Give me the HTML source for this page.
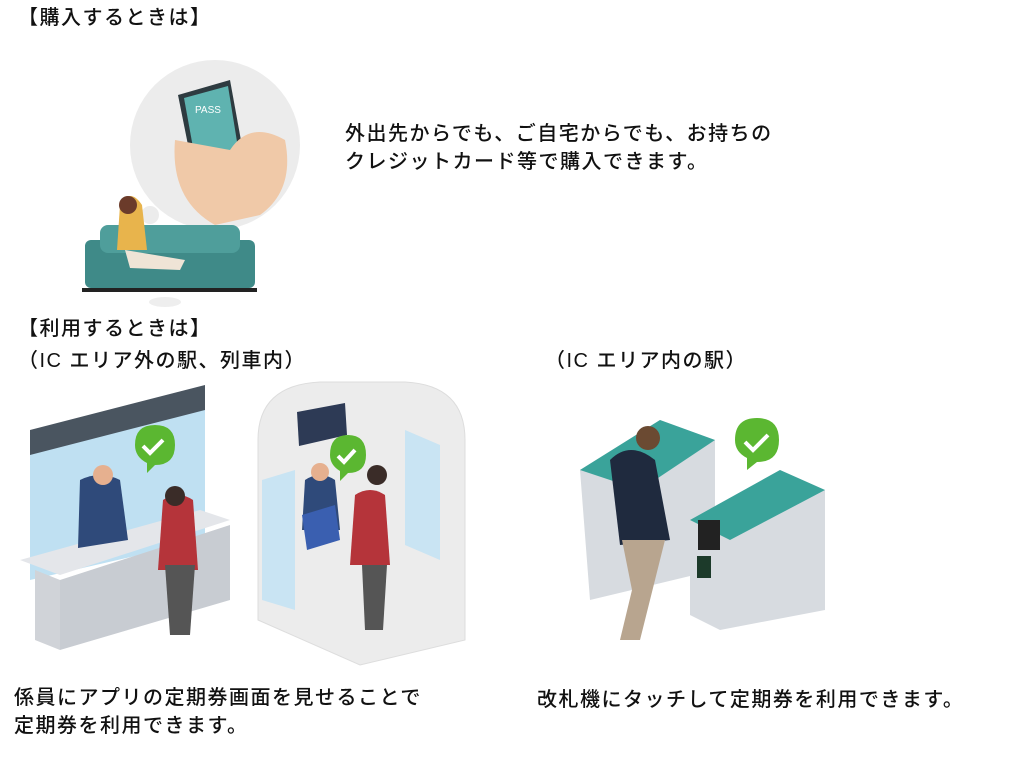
<!DOCTYPE html>
<html><head><meta charset="utf-8"><style>
body{margin:0;width:1024px;height:764px;background:#fff;position:relative;overflow:hidden;font-family:"Liberation Sans","Noto Sans CJK JP",sans-serif;color:#111}
.t{position:absolute;font-size:20px;letter-spacing:1.5px;white-space:nowrap;line-height:28px;font-weight:500}
svg{position:absolute;left:0;top:0}
</style></head><body>
<svg width="1024" height="764" viewBox="0 0 1024 764">
<circle cx="215" cy="145" r="85" fill="#ececec"/>
<circle cx="150" cy="215" r="9" fill="#ececec"/>
<path d="M178 95 L230 80 L250 190 L200 205 Z" fill="#2e3b40"/>
<path d="M184 98 L228 86 L244 185 L202 197 Z" fill="#5fb3b0"/>
<text x="195" y="113" font-size="10" fill="#fff" font-family="Liberation Sans">PASS</text>
<path d="M175 140 Q170 200 215 225 L260 215 Q295 190 285 140 Q250 120 230 150 Z" fill="#f0c9a8"/>
<rect x="85" y="240" width="170" height="48" rx="6" fill="#3f8a88"/>
<rect x="100" y="225" width="140" height="28" rx="8" fill="#4f9e9b"/>
<rect x="82" y="288" width="175" height="4" fill="#222"/>
<path d="M120 205 q10 -18 22 0 l5 45 l-30 0z" fill="#e8b44c"/>
<circle cx="128" cy="205" r="9" fill="#6b3b2a"/>
<path d="M125 250 L185 260 L180 270 L130 268 Z" fill="#efe4d6"/>
<ellipse cx="165" cy="302" rx="16" ry="5" fill="#eee"/>
<path d="M30 440 L205 395 L205 540 L30 580 Z" fill="#bfe0f2"/>
<path d="M30 430 L205 385 L205 410 L30 455 Z" fill="#4a5560"/>
<path d="M20 560 L200 510 L230 520 L60 575 Z" fill="#e4e6ea"/>
<path d="M35 570 L60 580 L60 650 L35 640 Z" fill="#d0d3d8"/>
<path d="M60 580 L230 525 L230 600 L60 650 Z" fill="#c8ccd2"/>
<path d="M80 480 q20 -10 40 0 l8 60 l-50 8z" fill="#2f4a7a"/>
<circle cx="103" cy="475" r="10" fill="#e6b08f"/>
<path d="M163 500 q15 -10 30 0 l5 70 l-40 0z" fill="#b5343a"/>
<circle cx="175" cy="496" r="10" fill="#3a2c28"/>
<path d="M165 565 l30 0 l-5 70 l-20 0z" fill="#555"/>
<path d="M135 445 q0 -20 20 -20 q20 0 20 20 q0 20 -20 20 l-8 8 l0 -10 q-12 -6 -12 -18z" fill="#5bb731"/>
<path d="M143 446 l7 7 l13 -13" stroke="#fff" stroke-width="4" fill="none"/>
<path d="M258 440 Q258 385 320 382 L405 382 Q465 385 465 440 L465 640 L360 665 L258 620 Z" fill="#ececec" stroke="#ddd"/>
<path d="M262 480 L295 470 L295 610 L262 600 Z" fill="#c9e4f3"/>
<path d="M405 430 L440 445 L440 560 L405 545 Z" fill="#c9e4f3"/>
<path d="M297 412 L345 403 L347 435 L299 446 Z" fill="#2d3a55"/>
<path d="M305 480 q15 -10 30 0 l5 50 l-38 0z" fill="#2f4a7a"/>
<circle cx="320" cy="472" r="9" fill="#e6b08f"/>
<path d="M302 515 L335 505 L340 540 L307 550 Z" fill="#3a5fb0"/>
<path d="M355 495 q15 -10 30 0 l5 70 l-40 0z" fill="#b5343a"/>
<circle cx="377" cy="475" r="10" fill="#3a2c28"/>
<path d="M362 565 l25 0 l-4 65 l-18 0z" fill="#555"/>
<path d="M330 455 q0 -20 18 -20 q18 0 18 20 q0 18 -18 18 l-8 8 l0 -10 q-10 -6 -10 -16z" fill="#5bb731"/>
<path d="M338 456 l6 6 l11 -12" stroke="#fff" stroke-width="4" fill="none"/>
<path d="M580 470 L660 420 L715 440 L715 570 L590 600 Z" fill="#d7dbe0"/>
<path d="M580 470 L660 420 L715 440 L640 490 Z" fill="#3aa39a"/>
<path d="M690 520 L780 470 L825 490 L825 610 L720 630 L690 615 Z" fill="#d7dbe0"/>
<path d="M690 520 L780 470 L825 490 L730 540 Z" fill="#3aa39a"/>
<rect x="698" y="520" width="22" height="30" fill="#222"/>
<rect x="697" y="556" width="14" height="22" fill="#1c3a2a"/>
<path d="M610 460 q20 -20 45 0 l15 80 l-50 5z" fill="#1f2a3e"/>
<circle cx="648" cy="438" r="12" fill="#6b4a32"/>
<path d="M622 540 L665 540 L650 600 L640 640 L620 640 L632 590 Z" fill="#b8a58f"/>
<path d="M735 440 q0 -22 22 -22 q22 0 22 22 q0 22 -22 22 l-10 8 l0 -12 q-12 -6 -12 -18z" fill="#5bb731"/>
<path d="M745 442 l8 8 l15 -15" stroke="#fff" stroke-width="4" fill="none"/>
</svg>
<div class="t" style="left:18px;top:4px">【購入するときは】</div>
<div class="t" style="left:345px;top:120px">外出先からでも、ご自宅からでも、お持ちの</div>
<div class="t" style="left:345px;top:148px">クレジットカード等で購入できます。</div>
<div class="t" style="left:18px;top:315px">【利用するときは】</div>
<div class="t" style="left:18px;top:347px">（IC エリア外の駅、列車内）</div>
<div class="t" style="left:545px;top:347px">（IC エリア内の駅）</div>
<div class="t" style="left:14px;top:684px">係員にアプリの定期券画面を見せることで</div>
<div class="t" style="left:14px;top:712px">定期券を利用できます。</div>
<div class="t" style="left:537px;top:686px">改札機にタッチして定期券を利用できます。</div>
</body></html>
